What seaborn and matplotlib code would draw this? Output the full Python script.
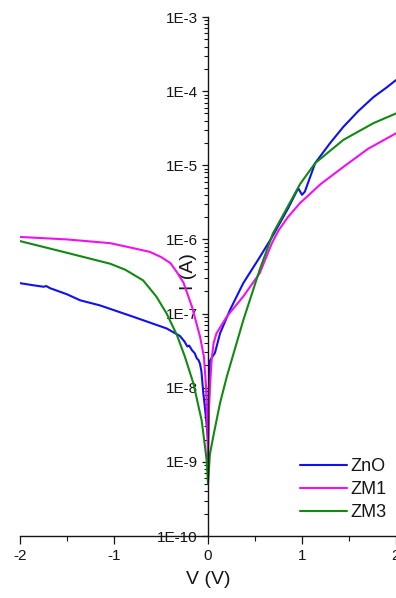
import numpy as np
import pandas as pd
import matplotlib
matplotlib.use("Agg")
import matplotlib.pyplot as plt
from matplotlib.ticker import FixedLocator, FuncFormatter, LogLocator, NullFormatter, MultipleLocator
import seaborn as sns

# ---- I-V data (voltage in V, current in A) ----
zno_v = [-2.0, -1.85, -1.75, -1.72, -1.68, -1.5, -1.36, -1.15, -0.8, -0.44, -0.30, -0.25,
         -0.22, -0.20, -0.17, -0.14, -0.12, -0.10, -0.085, -0.07, -0.05, -0.03, -0.015, 0.0,
         0.01, 0.02, 0.045, 0.074, 0.128, 0.234, 0.375, 0.55, 0.68, 0.85, 0.96, 1.0, 1.03,
         1.14, 1.3, 1.44, 1.6, 1.76, 1.9, 2.0]
zno_i = [2.57e-7, 2.4e-7, 2.3e-7, 2.35e-7, 2.2e-7, 1.82e-7, 1.51e-7, 1.29e-7, 9.1e-8, 6.3e-8,
         5.0e-8, 4.2e-8, 3.6e-8, 3.7e-8, 3.2e-8, 2.9e-8, 2.5e-8, 2.35e-8, 2.1e-8, 1.66e-8,
         8.5e-9, 5.0e-9, 3.2e-9, 2.0e-9,
         1.0e-8, 2.3e-8, 2.6e-8, 2.95e-8, 5.4e-8, 1.12e-7, 2.57e-7, 5.75e-7, 1.07e-6, 2.6e-6,
         4.9e-6, 4.0e-6, 4.4e-6, 1.07e-5, 2.0e-5, 3.3e-5, 5.4e-5, 8.3e-5, 1.12e-4, 1.41e-4]

zm1_v = [-2.0, -1.5, -1.04, -0.85, -0.62, -0.5, -0.40, -0.33, -0.26, -0.17, -0.085, -0.043,
         -0.02, -0.008, 0.0, 0.01, 0.025, 0.04, 0.06, 0.09, 0.2, 0.375, 0.55, 0.68, 0.75,
         0.85, 0.98, 1.2, 1.44, 1.7, 2.0]
zm1_i = [1.08e-6, 1.0e-6, 8.9e-7, 7.9e-7, 6.8e-7, 5.8e-7, 4.8e-7, 3.6e-7, 2.6e-7, 1.23e-7,
         4.9e-8, 2.6e-8, 1.0e-8, 3.2e-9, 1.05e-9, 5.0e-9, 1.26e-8, 2.5e-8, 4.0e-8, 5.4e-8,
         9.1e-8, 1.7e-7, 3.5e-7, 8.9e-7, 1.32e-6, 2.0e-6, 3.1e-6, 5.6e-6, 9.5e-6, 1.66e-5,
         2.7e-5]

zm3_v = [-2.0, -1.5, -1.04, -0.88, -0.69, -0.55, -0.44, -0.33, -0.245, -0.156, -0.067,
         -0.014, 0.0, 0.02, 0.056, 0.128, 0.2, 0.375, 0.55, 0.69, 0.85, 0.98, 1.14, 1.44,
         1.76, 2.0]
zm3_i = [9.5e-7, 6.6e-7, 4.7e-7, 3.9e-7, 2.8e-7, 1.7e-7, 1.0e-7, 5.1e-8, 2.6e-8, 1.15e-8,
         3.6e-9, 1.05e-9, 5.1e-10, 1.26e-9, 2.2e-9, 6.2e-9, 1.41e-8, 8.1e-8, 3.9e-7, 1.2e-6,
         2.8e-6, 5.6e-6, 1.07e-5, 2.2e-5, 3.7e-5, 5.0e-5]

samples = ["ZnO", "ZM1", "ZM3"]
colors = ["#1010f0", "#f010f0", "#108a10"]

y_decades = [1e-10, 1e-9, 1e-8, 1e-7, 1e-6, 1e-5, 1e-4, 1e-3]
x_ticks = [-2, -1, 0, 1, 2]

df = pd.concat([
    pd.DataFrame({"V": zno_v, "I": zno_i, "sample": "ZnO"}),
    pd.DataFrame({"V": zm1_v, "I": zm1_i, "sample": "ZM1"}),
    pd.DataFrame({"V": zm3_v, "I": zm3_i, "sample": "ZM3"}),
], ignore_index=True)

sns.set_style("ticks")
plt.rcParams["font.family"] = ["Liberation Sans", "DejaVu Sans"]
plt.rcParams["axes.unicode_minus"] = False

ink = "#151515"

fig = plt.figure(figsize=(3.96, 5.98), dpi=100)
ax = fig.add_axes([20 / 396, 62 / 598, 376 / 396, 519 / 598])

sns.lineplot(data=df, x="V", y="I", hue="sample", hue_order=samples,
             palette=dict(zip(samples, colors)), sort=False, estimator=None,
             linewidth=1.5, ax=ax)

ax.set_yscale("log")
ax.set_xlim(-2, 2)
ax.set_ylim(1e-10, 1e-3)

# y axis crosses at V = 0
ax.spines["left"].set_position(("data", 0))
ax.spines["top"].set_visible(False)
ax.spines["right"].set_visible(False)
for s in ("left", "bottom"):
    ax.spines[s].set_linewidth(1.0)
    ax.spines[s].set_color(ink)

ax.yaxis.set_major_locator(FixedLocator(y_decades))
ax.yaxis.set_major_formatter(FuncFormatter(lambda v, p: f"1E{int(round(np.log10(v)))}"))
ax.yaxis.set_minor_locator(LogLocator(base=10, subs=np.arange(2, 10), numticks=20))
ax.yaxis.set_minor_formatter(NullFormatter())
ax.xaxis.set_major_locator(FixedLocator(x_ticks))
ax.xaxis.set_minor_locator(MultipleLocator(0.5))

ax.tick_params(axis="y", which="major", direction="out", length=4.5, width=0.9,
               labelsize=11, pad=3, colors=ink, labelcolor=ink)
ax.tick_params(axis="y", which="minor", direction="out", length=3, width=0.8, colors=ink)
ax.tick_params(axis="x", which="major", direction="out", length=6, width=0.9,
               labelsize=11, pad=3, colors=ink, labelcolor=ink)
ax.tick_params(axis="x", which="minor", direction="out", length=3.5, width=0.8, colors=ink)

ax.set_xlabel("V (V)", fontsize=14, color=ink)
ax.set_ylabel("I (A)", fontsize=14, color=ink)
ax.xaxis.set_label_coords(0.5, -0.068)
ax.yaxis.set_label_coords(0.447, 0.51)
ax.yaxis.label.set_verticalalignment("center")

handles, labels = ax.get_legend_handles_labels()
leg = ax.legend(handles, labels, loc="lower left", bbox_to_anchor=(0.745, 0.028),
                frameon=False, fontsize=13, handlelength=2.6, handletextpad=0.2,
                labelspacing=0.35, borderpad=0, borderaxespad=0)
for t in leg.get_texts():
    t.set_color(ink)

fig.savefig("out.png", dpi=100)
